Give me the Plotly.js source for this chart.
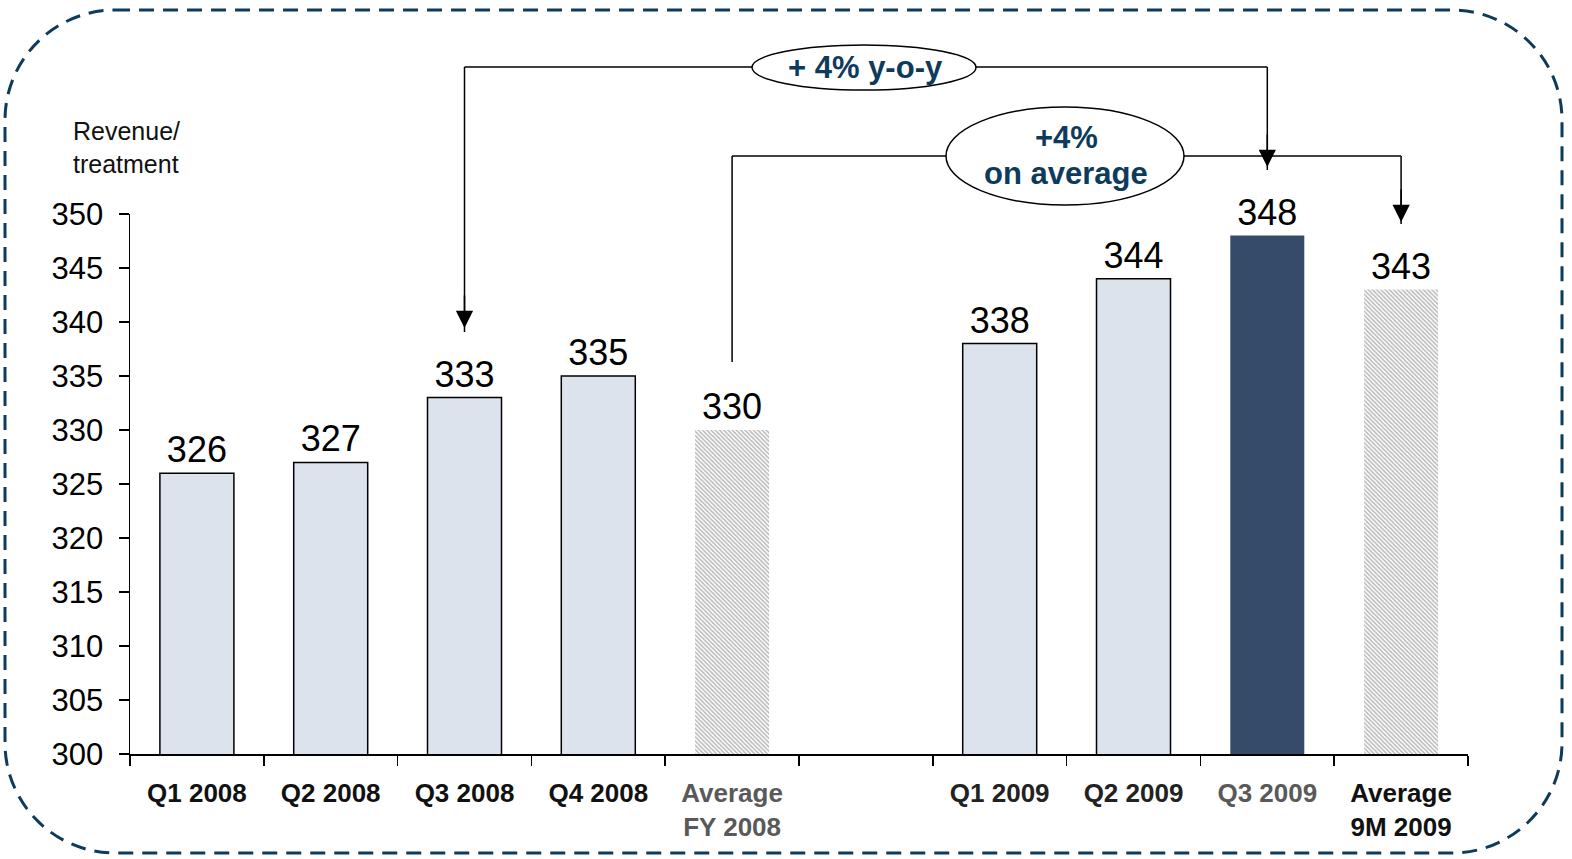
<!DOCTYPE html>
<html>
<head>
<meta charset="utf-8">
<script src="https://cdn.plot.ly/plotly-3.0.1.min.js"></script>
<style>
  html, body { margin: 0; padding: 0; background: #ffffff; }
  #chart { width: 1572px; height: 859px; }
</style>
</head>
<body>
<div id="chart"></div>
<script>
// Revenue per treatment by quarter, 2008 vs 2009
const categories = ['Q1 2008', 'Q2 2008', 'Q3 2008', 'Q4 2008', 'Average FY 2008',
                    'gap', 'Q1 2009', 'Q2 2009', 'Q3 2009', 'Average 9M 2009'];
const tickLabels = [
  '<b>Q1 2008</b>', '<b>Q2 2008</b>', '<b>Q3 2008</b>', '<b>Q4 2008</b>',
  '<span style="color:#595959"><b>Average</b></span><br><span style="color:#595959"><b>FY 2008</b></span>',
  '',
  '<span style="color:#222222"><b>Q1 2009</b></span>', '<span style="color:#222222"><b>Q2 2009</b></span>',
  '<span style="color:#595959"><b>Q3 2009</b></span>',
  '<b>Average</b><br><b>9M 2009</b>'
];
const revenue = [326, 327, 333, 335, 330, null, 338, 344, 348, 343];
const barKind = ['quarter', 'quarter', 'quarter', 'quarter', 'average', 'none',
                 'quarter', 'quarter', 'current', 'average'];
const growthYoY = '+ 4% y-o-y';
const growthAvgLines = ['+4%', 'on average'];
const yTitle = 'Revenue/<br>treatment';

const FONT = '"Liberation Sans", Arial, sans-serif';
const NAVY = '#0d3b5c';

const fillFor = { quarter: '#dde3ed', average: '#b8b8b8', current: '#364a69', none: 'rgba(0,0,0,0)' };
const colors = barKind.map(k => fillFor[k]);
const lineWidths = barKind.map(k => k === 'quarter' ? 1.5 : 0);
const patterns = barKind.map(k => k === 'average' ? '\\' : '');

// plot-area geometry (pixels) used to place decorations in paper space
const W = 1572, H = 859;
const M = { l: 130, r: 104, t: 214, b: 105 };
const PW = W - M.l - M.r, PH = H - M.t - M.b;
const px = x => (x - M.l) / PW;
const py = y => (H - M.b - y) / PH;
const cx = name => (categories.indexOf(name) + 0.5) / categories.length;

// dashed rounded frame around the whole chart
function roundedRect(x0, y0, x1, y1, r) {
  const L = px(x0), R = px(x1), T = py(y0), B = py(y1);
  const rx = r / PW, ry = r / PH, k = 0.45;
  return `M ${L + rx},${T} L ${R - rx},${T} ` +
    `C ${R - rx * k},${T} ${R},${T - ry * k} ${R},${T - ry} ` +
    `L ${R},${B + ry} C ${R},${B + ry * k} ${R - rx * k},${B} ${R - rx},${B} ` +
    `L ${L + rx},${B} C ${L + rx * k},${B} ${L},${B + ry * k} ${L},${B + ry} ` +
    `L ${L},${T - ry} C ${L},${T - ry * k} ${L + rx * k},${T} ${L + rx},${T} Z`;
}

const seg = (x0, y0, x1, y1) => ({
  type: 'line', xref: 'paper', yref: 'paper', x0, y0, x1, y1,
  line: { color: '#000000', width: 1.5 }
});

const xQ3_08 = cx('Q3 2008'), xQ3_09 = cx('Q3 2009');
const xAvg08 = cx('Average FY 2008'), xAvg09 = cx('Average 9M 2009');
const yTop1 = py(67), yTop2 = py(156);

const shapes = [
  { type: 'path', xref: 'paper', yref: 'paper', path: roundedRect(5, 10, 1562, 853, 110),
    line: { color: NAVY, width: 3, dash: '15px,9px' } },
  // y-o-y bracket
  seg(xQ3_08, py(332), xQ3_08, yTop1),
  seg(xQ3_08, yTop1, xQ3_09, yTop1),
  seg(xQ3_09, yTop1, xQ3_09, py(170)),
  // average bracket
  seg(xAvg08, py(362), xAvg08, yTop2),
  seg(xAvg08, yTop2, xAvg09, yTop2),
  seg(xAvg09, yTop2, xAvg09, py(224)),
  // ellipses holding the growth labels
  { type: 'circle', xref: 'paper', yref: 'paper', x0: px(752), x1: px(976), y0: py(90), y1: py(45),
    fillcolor: '#ffffff', line: { color: '#000000', width: 1.5 } },
  { type: 'circle', xref: 'paper', yref: 'paper', x0: px(946), x1: px(1184), y0: py(205), y1: py(107),
    fillcolor: '#ffffff', line: { color: '#000000', width: 1.5 } }
];

const arrow = (x, yTip) => ({
  xref: 'paper', yref: 'paper', x, y: yTip, text: '', showarrow: true,
  ax: 0, ay: -34, arrowhead: 2, arrowsize: 2.3, arrowwidth: 1.5, arrowcolor: '#000000', standoff: 0
});

const label = (x, y, text) => ({
  xref: 'paper', yref: 'paper', x: px(x), y: py(y), xanchor: 'center', yanchor: 'middle',
  text: '<b>' + text + '</b>', showarrow: false, font: { family: FONT, size: 31, color: NAVY }
});

const annotations = [
  arrow(xQ3_08, py(328)),
  arrow(xQ3_09, py(167)),
  arrow(xAvg09, py(222)),
  label(865, 67, growthYoY),
  label(1066, 138, growthAvgLines[0]),
  label(1066, 173, growthAvgLines[1]),
  { xref: 'paper', yref: 'paper', x: px(71), y: py(147), xanchor: 'left', yanchor: 'middle', align: 'left',
    text: yTitle, showarrow: false, font: { family: FONT, size: 25, color: '#111111' } }
];

const trace = {
  type: 'bar',
  x: categories,
  y: revenue,
  width: 0.553,
  marker: {
    color: colors,
    line: { color: '#000000', width: lineWidths },
    pattern: { shape: patterns, fgcolor: '#666666', bgcolor: '#cfcfcf', size: 3, solidity: 0.5 }
  },
  text: revenue.map(v => v === null ? '' : String(v)),
  textposition: 'outside',
  textfont: { family: FONT, size: 36, color: '#000000' },
  constraintext: 'none',
  cliponaxis: false,
  hoverinfo: 'x+y'
};

const layout = {
  width: W, height: H,
  margin: M,
  paper_bgcolor: '#ffffff', plot_bgcolor: '#ffffff',
  showlegend: false,
  font: { family: FONT, color: '#000000' },
  xaxis: {
    type: 'category', categoryorder: 'array', categoryarray: categories,
    range: [-0.5, categories.length - 0.5],
    tickmode: 'array', tickvals: categories, ticktext: tickLabels,
    tickson: 'boundaries', ticks: 'outside', ticklen: 10, tickwidth: 1.5, tickcolor: '#000000',
    showline: true, linecolor: '#000000', linewidth: 1.5,
    showgrid: false, zeroline: false,
    tickfont: { family: FONT, size: 26, color: '#111111' },
    ticklabelstandoff: 15, fixedrange: true
  },
  yaxis: {
    range: [300, 350], dtick: 5, tick0: 300,
    ticks: 'outside', ticklen: 10, tickwidth: 1.5, tickcolor: '#000000',
    showline: true, linecolor: '#000000', linewidth: 1.5,
    showgrid: false, zeroline: false,
    tickfont: { family: FONT, size: 31, color: '#000000' },
    ticklabelstandoff: 9, fixedrange: true
  },
  shapes, annotations
};

Plotly.newPlot('chart', [trace], layout, { displayModeBar: false, staticPlot: true });
</script>
</body>
</html>
